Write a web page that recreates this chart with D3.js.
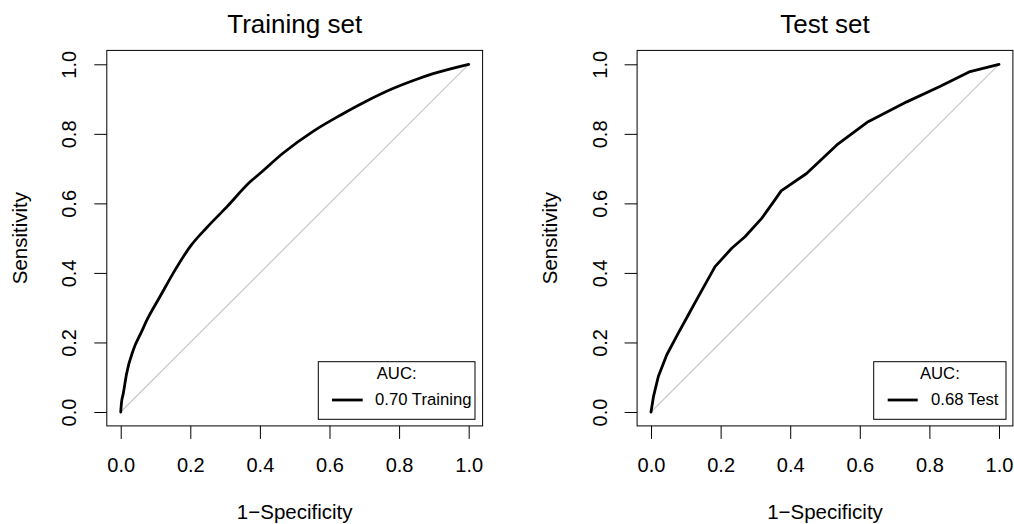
<!DOCTYPE html>
<html>
<head>
<meta charset="utf-8">
<script src="https://cdn.jsdelivr.net/npm/d3@7"></script>
<style>
  html, body { margin: 0; padding: 0; background: #fff; }
  svg { display: block; }
  text { font-family: "Liberation Sans", Arial, Helvetica, sans-serif; fill: #000; }
</style>
</head>
<body>
<svg id="chart" width="1014" height="524"></svg>
<script>
// ---- Data ----
const tickValues = [0, 0.2, 0.4, 0.6, 0.8, 1.0];
const tickLabels = ["0.0", "0.2", "0.4", "0.6", "0.8", "1.0"];

const trainFPR = [0, 0.002, 0.0075, 0.017, 0.036, 0.060, 0.0765, 0.113, 0.156, 0.199, 0.247, 0.305, 0.372, 0.400, 0.467, 0.554, 0.630, 0.700, 0.784, 0.851, 0.898, 1.0];
const trainTPR = [0, 0.025, 0.054, 0.111, 0.178, 0.231, 0.267, 0.332, 0.408, 0.475, 0.530, 0.590, 0.662, 0.686, 0.745, 0.808, 0.853, 0.891, 0.931, 0.957, 0.973, 1.0];

const testFPR = [0, 0.007, 0.021, 0.045, 0.078, 0.107, 0.136, 0.184, 0.232, 0.270, 0.318, 0.356, 0.374, 0.447, 0.534, 0.624, 0.735, 0.830, 0.917, 1.0];
const testTPR = [0, 0.044, 0.102, 0.164, 0.226, 0.279, 0.332, 0.418, 0.471, 0.504, 0.557, 0.610, 0.636, 0.686, 0.768, 0.835, 0.892, 0.936, 0.979, 1.0];

const panels = [
  { title: "Training set", fpr: trainFPR, tpr: trainTPR, legend: "0.70 Training",
    left: 106.8, right: 482.6, legBox: [318.3, 475], legLine: [332, 362.7], legText: 375, curve: d3.curveMonotoneX },
  { title: "Test set", fpr: testFPR, tpr: testTPR, legend: "0.68 Test",
    left: 637.1, right: 1012.9, legBox: [873.7, 1006], legLine: [887.7, 917.7], legText: 931, curve: d3.curveLinear }
];

const plotTop = 50.4, plotBottom = 425.9;
const svg = d3.select("#chart");

panels.forEach(p => {
  const x = d3.scaleLinear().domain([-0.04, 1.04]).range([p.left, p.right]);
  const y = d3.scaleLinear().domain([-0.04, 1.04]).range([plotBottom, plotTop]);
  const g = svg.append("g");

  // diagonal reference
  g.append("line")
    .attr("x1", x(0)).attr("y1", y(0)).attr("x2", x(1)).attr("y2", y(1))
    .attr("stroke", "#c8c8c8").attr("stroke-width", 1.2);

  // ROC curve
  const pts = p.fpr.map((v, i) => [v, p.tpr[i]]);
  g.append("path")
    .datum(pts)
    .attr("fill", "none")
    .attr("stroke", "#000")
    .attr("stroke-width", 2.8)
    .attr("stroke-linejoin", "round")
    .attr("stroke-linecap", "round")
    .attr("d", d3.line().x(d => x(d[0])).y(d => y(d[1])).curve(p.curve));

  // box
  g.append("rect")
    .attr("x", p.left).attr("y", plotTop)
    .attr("width", p.right - p.left).attr("height", plotBottom - plotTop)
    .attr("fill", "none").attr("stroke", "#000").attr("stroke-width", 1);

  // x axis
  const xa = g.append("g").attr("transform", `translate(0,${plotBottom})`)
    .call(d3.axisBottom(x).tickValues(tickValues).tickFormat((d, i) => tickLabels[i]).tickSize(13).tickSizeOuter(0));
  xa.select(".domain").remove();
  xa.selectAll(".tick line").attr("stroke", "#000").attr("stroke-width", 1);
  xa.selectAll(".tick text").attr("y", 46).attr("dy", 0)
    .style("font-size", "20px").style("font-family", "'Liberation Sans', Arial, sans-serif").attr("fill", "#000");

  // y axis
  const ya = g.append("g").attr("transform", `translate(${p.left},0)`)
    .call(d3.axisLeft(y).tickValues(tickValues).tickFormat((d, i) => tickLabels[i]).tickSize(12.5).tickSizeOuter(0));
  ya.select(".domain").remove();
  ya.selectAll(".tick line").attr("stroke", "#000").attr("stroke-width", 1);
  ya.selectAll(".tick text")
    .attr("x", null).attr("dy", null)
    .attr("text-anchor", "middle")
    .attr("transform", "translate(-30.5,0) rotate(-90)")
    .style("font-size", "20px").style("font-family", "'Liberation Sans', Arial, sans-serif").attr("fill", "#000");

  const cx = (p.left + p.right) / 2;
  // title
  g.append("text").attr("x", cx).attr("y", 33).attr("text-anchor", "middle")
    .style("font-size", "26px").text(p.title);
  // x label
  g.append("text").attr("x", cx).attr("y", 519).attr("text-anchor", "middle")
    .style("font-size", "20.5px").text("1\u2212Specificity");
  // y label
  g.append("text").attr("transform", `translate(${p.left - 80.3},${(plotTop + plotBottom) / 2}) rotate(-90)`)
    .attr("text-anchor", "middle").style("font-size", "20.5px").text("Sensitivity");

  // legend
  const lg = g.append("g");
  lg.append("rect").attr("x", p.legBox[0]).attr("y", 361.7)
    .attr("width", p.legBox[1] - p.legBox[0]).attr("height", 419.3 - 361.7)
    .attr("fill", "#fff").attr("stroke", "#000").attr("stroke-width", 1);
  lg.append("text").attr("x", (p.legBox[0] + p.legBox[1]) / 2)
    .attr("y", 379.3).attr("text-anchor", "middle").style("font-size", "16.7px").text("AUC:");
  lg.append("line").attr("x1", p.legLine[0]).attr("x2", p.legLine[1]).attr("y1", 400).attr("y2", 400)
    .attr("stroke", "#000").attr("stroke-width", 2.8);
  lg.append("text").attr("x", p.legText).attr("y", 405).style("font-size", "16.7px").text(p.legend);
});
</script>
</body>
</html>
